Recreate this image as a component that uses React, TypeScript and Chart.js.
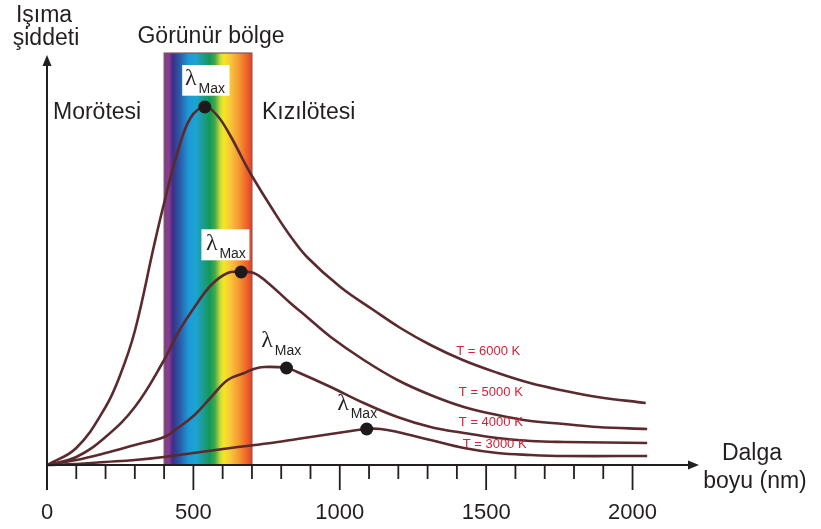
import React, { useEffect, useRef } from "react";
import { Chart, registerables } from "chart.js";

Chart.register(...registerables);

// ---- data (wavelength in nm, intensity in arbitrary units) ----
const T6000_X = [0, 100, 200, 250, 300, 366, 400, 445, 490, 539, 580, 625, 670, 700, 774, 831, 888, 1002, 1115, 1207, 1310, 1420, 1540, 1650, 1770, 1880, 2045];
const T6000_Y = [0, 17, 58, 90, 134, 220, 262, 312, 347, 358, 350, 330, 305, 289, 254, 229, 208, 178, 155, 137, 120, 105, 92, 82, 74, 68, 62];

const T5000_X = [0, 100, 200, 300, 400, 447, 504, 561, 617, 663, 706, 751, 831, 888, 969, 1082, 1197, 1310, 1424, 1538, 1652, 1766, 1880, 2050];
const T5000_Y = [0, 8, 28, 58, 105, 132, 158, 180, 192, 193, 192, 183, 162, 148, 128, 105, 85, 70, 58, 50, 44, 41, 38, 36];

const T4000_X = [0, 100, 200, 300, 400, 447, 504, 561, 617, 674, 706, 741, 818, 855, 969, 1082, 1197, 1310, 1424, 1538, 1652, 1766, 2050];
const T4000_Y = [0, 5, 12, 20, 28, 37, 50, 68, 85, 92, 96, 98, 97, 93, 78, 62, 48, 38, 32, 27, 24, 23, 22];

const T3000_X = [0, 100, 200, 300, 400, 500, 627, 750, 855, 969, 1092, 1139, 1197, 1310, 1424, 1538, 1652, 1766, 2050];
const T3000_Y = [0, 1, 3, 5, 8, 12, 17, 21.5, 26, 31, 36, 36, 33, 25, 17, 12, 10, 9, 9];

const SERIES_LABELS = ["T = 6000 K", "T = 5000 K", "T = 4000 K", "T = 3000 K"];
const PEAK_X = [539, 663, 818, 1092];
const PEAK_Y = [358, 193, 97, 36];

const X_TICK_LABELS = [0, 500, 1000, 1500, 2000];
const X_MINOR_TICKS = [100, 200, 300, 400, 600, 700, 800, 900, 1100, 1200, 1300, 1400, 1600, 1700, 1800, 1900];
const VISIBLE_BAND = [400, 700];

// ---- layout / style constants ----
const X_MAX = 2227;
const Y_MAX = 410;
const BAND_TOP = 412;
const CURVE_COLOR = "#5b2a2e";
const INK = "#231f20";
const LABEL_RED = "#d4213d";
const SANS = '"Liberation Sans", Arial, Helvetica, sans-serif';
const SERIF = '"Liberation Serif", "Times New Roman", serif';

// label anchor positions (data coords) for the temperature labels
const T_LABEL_POS = [
  [1507, 114],
  [1516, 72.5],
  [1516, 42.5],
  [1529, 20.5],
];

// λMax label offsets relative to peak dot (px)
const LMAX_LAYOUT = [
  { box: [-22.6, -42, 47.3, 30.7], maxAt: [-6.3, -14.5] },
  { box: [-39.7, -42.7, 48, 31], maxAt: [-21.7, -14.3] },
  { box: null, maxAt: [-11.7, -13.3] },
  { box: null, maxAt: [-16, -11.3] },
];

const BAND_STOPS: [number, string][] = [
  [0.0, "#7c3a8d"],
  [0.05, "#8b3d92"],
  [0.1, "#3c2f86"],
  [0.18, "#2a5ba9"],
  [0.28, "#1d9ad6"],
  [0.36, "#1ba4d2"],
  [0.45, "#1c9b8c"],
  [0.52, "#119a55"],
  [0.58, "#45a84a"],
  [0.64, "#cadc3a"],
  [0.68, "#f5e71f"],
  [0.76, "#f8c43b"],
  [0.86, "#f4942f"],
  [1.0, "#ea3d26"],
];

function zip(xs: number[], ys: number[]) {
  return xs.map((x, i) => ({ x, y: ys[i] }));
}

const overlayPlugin = {
  id: "overlay",
  beforeDatasetsDraw(chart: any) {
    const { ctx, scales } = chart;
    const x = scales.x;
    const y = scales.y;
    const x0 = x.getPixelForValue(VISIBLE_BAND[0]);
    const x1 = x.getPixelForValue(VISIBLE_BAND[1]);
    const yb = y.getPixelForValue(0);
    const yt = y.getPixelForValue(BAND_TOP);
    ctx.save();
    const g = ctx.createLinearGradient(x0, 0, x1, 0);
    BAND_STOPS.forEach(([o, c]) => g.addColorStop(o, c));
    ctx.fillStyle = g;
    ctx.fillRect(x0, yt, x1 - x0, yb - yt);
    ctx.strokeStyle = "#7d5a5a";
    ctx.lineWidth = 1.2;
    ctx.strokeRect(x0, yt, x1 - x0, yb - yt);
    ctx.restore();
  },
  afterDatasetsDraw(chart: any) {
    const { ctx, scales, chartArea } = chart;
    const x = scales.x;
    const y = scales.y;
    ctx.save();

    // λMax labels
    PEAK_X.forEach((px, i) => {
      const cx = x.getPixelForValue(px);
      const cy = y.getPixelForValue(PEAK_Y[i]);
      const L = LMAX_LAYOUT[i];
      if (L.box) {
        ctx.fillStyle = "#ffffff";
        ctx.fillRect(cx + L.box[0], cy + L.box[1], L.box[2], L.box[3]);
      }
      const mx = cx + L.maxAt[0];
      const my = cy + L.maxAt[1];
      ctx.fillStyle = INK;
      ctx.textAlign = "left";
      ctx.textBaseline = "alphabetic";
      ctx.font = `24px ${SERIF}`;
      ctx.fillText("λ", mx - 13.5, my - 7.5);
      ctx.font = `14px ${SANS}`;
      ctx.fillText("Max", mx, my);
    });

    // temperature labels
    ctx.fillStyle = LABEL_RED;
    ctx.font = `13px ${SANS}`;
    ctx.textAlign = "center";
    ctx.textBaseline = "middle";
    SERIES_LABELS.forEach((lbl, i) => {
      ctx.fillText(lbl, x.getPixelForValue(T_LABEL_POS[i][0]), y.getPixelForValue(T_LABEL_POS[i][1]));
    });

    // axes
    const ox = x.getPixelForValue(0);
    const oy = y.getPixelForValue(0);
    ctx.strokeStyle = INK;
    ctx.fillStyle = INK;
    ctx.lineWidth = 2;
    ctx.beginPath();
    ctx.moveTo(ox, oy + 25);
    ctx.lineTo(ox, chartArea.top + 9);
    ctx.moveTo(ox - 1, oy);
    ctx.lineTo(chartArea.right - 9, oy);
    ctx.stroke();
    // arrow heads
    ctx.beginPath();
    ctx.moveTo(ox, chartArea.top);
    ctx.lineTo(ox - 4.5, chartArea.top + 11);
    ctx.lineTo(ox + 4.5, chartArea.top + 11);
    ctx.closePath();
    ctx.fill();
    ctx.beginPath();
    ctx.moveTo(chartArea.right, oy);
    ctx.lineTo(chartArea.right - 11, oy - 4.5);
    ctx.lineTo(chartArea.right - 11, oy + 4.5);
    ctx.closePath();
    ctx.fill();

    // ticks
    ctx.lineWidth = 1.8;
    ctx.beginPath();
    X_MINOR_TICKS.forEach((v) => {
      const tx = x.getPixelForValue(v);
      ctx.moveTo(tx, oy);
      ctx.lineTo(tx, oy + 14);
    });
    X_TICK_LABELS.forEach((v) => {
      const tx = x.getPixelForValue(v);
      ctx.moveTo(tx, oy);
      ctx.lineTo(tx, oy + 25);
    });
    ctx.stroke();

    ctx.font = `22px ${SANS}`;
    ctx.textAlign = "center";
    ctx.textBaseline = "alphabetic";
    X_TICK_LABELS.forEach((v) => {
      ctx.fillText(String(v), x.getPixelForValue(v), oy + 53.5);
    });

    // titles
    ctx.font = `23px ${SANS}`;
    ctx.textAlign = "center";
    ctx.fillText("Işıma", 44, 22);
    ctx.fillText("şiddeti", 46, 44.5);
    ctx.fillText("Görünür bölge", 211, 43);
    ctx.fillText("Dalga", 752, 460);
    ctx.fillText("boyu (nm)", 755, 488);
    ctx.textAlign = "left";
    ctx.fillText("Morötesi", 53, 119);
    ctx.fillText("Kızılötesi", 262, 119);

    ctx.restore();
  },
};

export default function App() {
  const ref = useRef<HTMLCanvasElement | null>(null);

  useEffect(() => {
    if (!ref.current) return;
    const curve = (xs: number[], ys: number[], label: string) => ({
      label,
      data: zip(xs, ys),
      borderColor: CURVE_COLOR,
      borderWidth: 2.6,
      pointRadius: 0,
      fill: false,
      tension: 0.4,
      clip: false as const,
      order: 2,
    });
    const chart = new Chart(ref.current, {
      type: "line",
      data: {
        datasets: [
          {
            label: "λMax",
            data: zip(PEAK_X, PEAK_Y),
            showLine: false,
            pointRadius: 6.5,
            pointHoverRadius: 6.5,
            pointBackgroundColor: "#1e1a1b",
            pointBorderColor: "#1e1a1b",
            pointBorderWidth: 0,
            clip: false as const,
            order: 1,
          } as any,
          curve(T6000_X, T6000_Y, SERIES_LABELS[0]),
          curve(T5000_X, T5000_Y, SERIES_LABELS[1]),
          curve(T4000_X, T4000_Y, SERIES_LABELS[2]),
          curve(T3000_X, T3000_Y, SERIES_LABELS[3]),
        ],
      },
      options: {
        animation: false,
        responsive: false,
        devicePixelRatio: 1,
        layout: { padding: { left: 47, right: 122, top: 55, bottom: 64 } },
        plugins: { legend: { display: false }, tooltip: { enabled: false } },
        events: [],
        scales: {
          x: { type: "linear", min: 0, max: X_MAX, display: false },
          y: { type: "linear", min: 0, max: Y_MAX, display: false },
        },
      },
      plugins: [overlayPlugin],
    });
    return () => chart.destroy();
  }, []);

  return (
    <div style={{ position: "fixed", left: 0, top: 0, width: 821, height: 529, background: "#ffffff" }}>
      <canvas ref={ref} width={821} height={529} style={{ width: 821, height: 529, display: "block" }} />
    </div>
  );
}
